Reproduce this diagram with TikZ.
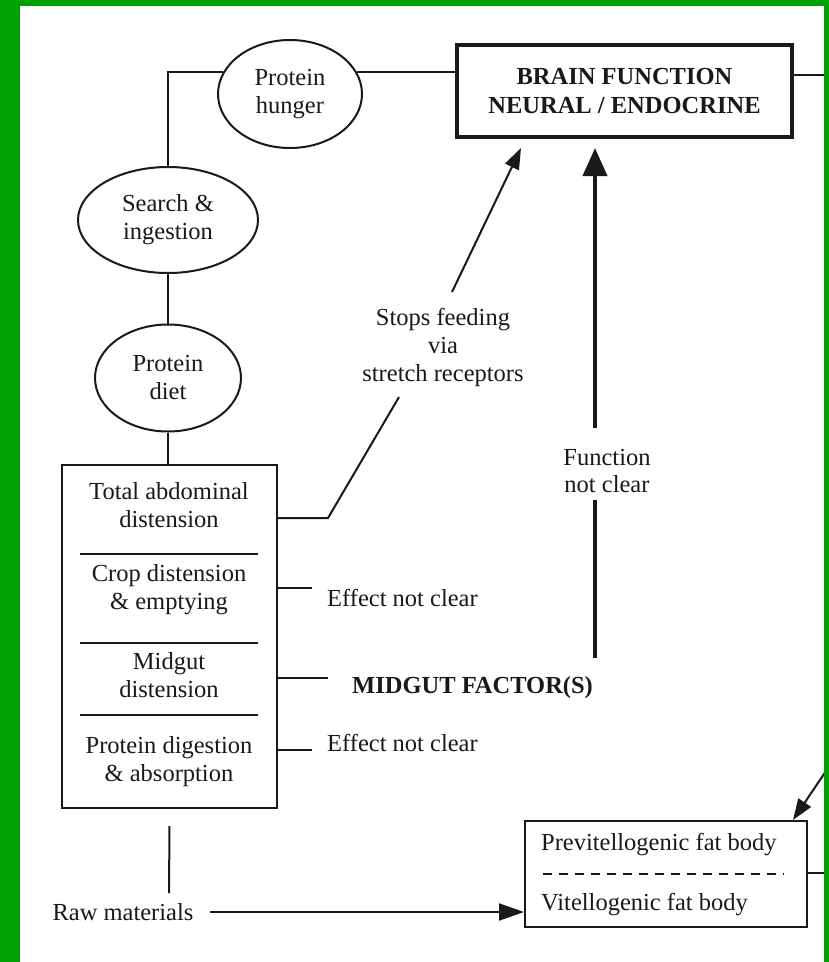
\documentclass[tikz,border=0pt]{standalone}
\usepackage{fontspec}
\setmainfont{Liberation Serif}
\usetikzlibrary{arrows.meta,shapes.geometric}
\definecolor{frame}{RGB}{0,160,0}
\definecolor{ink}{RGB}{25,25,25}
\tikzset{
  txt/.style={font=\fontsize{24.5}{28}\selectfont, text=ink, align=center, inner sep=0pt},
  boldtxt/.style={txt, font=\fontsize{24.5}{29}\selectfont\bfseries},
  bubble/.style={ellipse, draw=ink, line width=2pt, txt},
  wire/.style={draw=ink, line width=2pt},
  arr/.style={wire, -{Triangle[length=21pt,width=15pt]}},
  bigarrow/.style={draw=ink, line width=4pt, -{Triangle[length=28pt,width=24pt]}},
  flatarrow/.style={wire, -{Triangle[length=25pt,width=17pt]}},
  sepline/.style={draw=ink, line width=2.5pt},
}
\begin{document}
\begin{tikzpicture}[x=1pt,y=-1pt]
\useasboundingbox (0,0) rectangle (829,962);
\fill[white] (0,0) rectangle (829,962);

% feeding loop
\node[bubble, minimum width=144pt, minimum height=108pt] (hunger) at (290,94) {Protein\\hunger};
\node[bubble, minimum width=180pt, minimum height=106pt] (search) at (168,220) {Search \&\\ingestion};
\node[bubble, minimum width=146pt, minimum height=107pt] (diet) at (168,378) {Protein\\diet};
\node[boldtxt, draw=ink, line width=4pt, minimum width=335pt, minimum height=92pt] (brain) at (624.5,91) {BRAIN FUNCTION\\NEURAL / ENDOCRINE};

\draw[wire] (search.north) |- (hunger.162);
\draw[wire] (hunger.18) -- (hunger.18 -| brain.west);
\coordinate (rimA) at (824,75);
\draw[wire] (brain.east |- rimA) -- (rimA);
\draw[wire] (search.south) -- (diet.north);

% abdominal compartments
\node[draw=ink, line width=2pt, minimum width=215pt, minimum height=343pt, inner sep=0pt] (gut) at (169.5,636.5) {};
\draw[wire] (diet.south) -- (diet.south |- gut.north);
\draw[sepline] (80,554) -- (258,554);
\draw[sepline] (80,643) -- (258,643);
\draw[sepline] (80,715) -- (258,715);
\node[txt] (ta) at (169,505) {Total abdominal\\distension};
\node[txt] (cd) at (169,590) {Crop distension\\\& emptying};
\node[txt] (md) at (169,675) {Midgut\\distension};
\node[txt] (pd) at (169,762) {Protein digestion\\\& absorption};

% stretch receptor pathway
\node[txt] (stops) at (443,347) {Stops feeding\\via\\stretch receptors};
\coordinate (kneeA) at (328,518);
\coordinate (stopsIn) at (399,397);
\coordinate (stopsOut) at (452,292);
\coordinate (brainTipA) at (521,148);
\draw[wire] (gut.east |- kneeA) -- (kneeA) -- (stopsIn);
\draw[arr] (stopsOut) -- (brainTipA);

% side effects of the compartments
\node[txt, anchor=west] (eff1) at (327,598) {Effect not clear};
\node[boldtxt, anchor=west] (mf) at (352,688) {MIDGUT FACTOR(S)};
\node[txt, anchor=west] (eff2) at (327,743) {Effect not clear};
\draw[wire] (gut.east |- 0,588) -- (312,588);
\draw[wire] (gut.east |- 0,678) -- (328,678);
\draw[wire] (gut.east |- 0,750) -- (312,750);

% midgut factor signal to the brain
\node[txt] (func) at (607,471) {Function\\not clear};
\coordinate (mfTop) at (595,658);
\coordinate (funcLow) at (595,500);
\coordinate (funcHigh) at (595,428);
\coordinate (brainTipB) at (595,148);
\draw[draw=ink, line width=4pt] (mfTop) -- (funcLow);
\draw[bigarrow] (funcHigh) -- (brainTipB);

% fat body
\node[draw=ink, line width=2pt, minimum width=282pt, minimum height=106pt, inner sep=0pt] (prev) at (666,874) {};
\node[txt, anchor=west] (pv) at (541,845) {Previtellogenic fat body};
\node[txt, anchor=west] (vt) at (541,905) {Vitellogenic fat body};
\draw[draw=ink, line width=2pt, dash pattern=on 9pt off 7pt] (543,874) -- (784,874);
\coordinate (rimB) at (826,771);
\coordinate (prevTip) at ([xshift=-15pt]prev.north east);
\draw[arr] (rimB) -- (prevTip);
\coordinate (rimC) at (824,873);
\draw[wire] (prev.east |- rimC) -- (rimC);

% raw materials
\node[txt] (raw) at (123,912) {Raw materials};
\draw[wire] ([yshift=-17pt]gut.south) -- (169,893);
\draw[flatarrow] ([xshift=16pt]raw.east) -- (prev.west |- raw.east);

% green frame
\fill[frame] (0,0) rectangle (20,962);
\fill[frame] (0,0) rectangle (829,6);
\fill[frame] (824,0) rectangle (829,962);
\end{tikzpicture}
\end{document}
